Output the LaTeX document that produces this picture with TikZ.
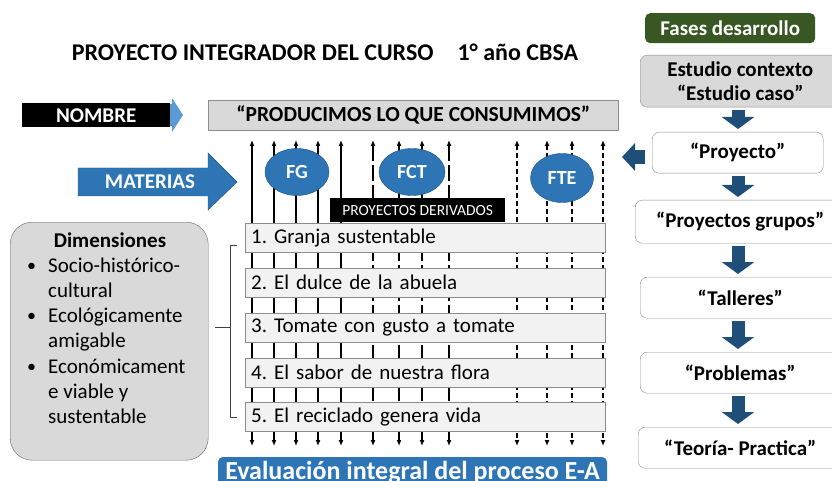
\documentclass[tikz,border=0pt]{standalone}
\usepackage{fontspec}
\setmainfont{Carlito}
\usepackage{tikz}
\usetikzlibrary{shapes.geometric,arrows.meta}
\frenchspacing

\definecolor{azul}{RGB}{46,117,182}
\definecolor{azulosc}{RGB}{31,78,121}
\definecolor{azulclaro}{RGB}{91,155,213}
\definecolor{verde}{RGB}{56,87,35}
\definecolor{gris}{RGB}{217,217,217}
\definecolor{grisclaro}{RGB}{242,242,242}
\definecolor{borde}{RGB}{140,140,140}

\tikzset{
  linea/.style={line width=1.4pt},
  punteada/.style={line width=1.4pt, dash pattern=on 5pt off 3pt},
  mixta/.style={line width=1.4pt, dash pattern=on 16pt off 4pt},
  proy/.style={draw=borde, fill=grisclaro, anchor=north west, minimum height=29pt,
    text width=348pt, inner xsep=6pt, align=left, font=\fontsize{21}{23}\selectfont},
  elip/.style={ellipse, draw=azulosc, fill=azul, text=white, inner sep=0pt,
    font=\bfseries\fontsize{20}{22}\selectfont},
  fase/.style={draw=borde, fill=white, rounded corners=7pt, anchor=north west,
    font=\bfseries\fontsize{21}{25}\selectfont, align=center},
  bloque/.style={line width=13pt, draw=azulosc, -{Triangle[width=32pt,length=12pt]},
    shorten <=3pt, shorten >=3pt}
}

\begin{document}
\begin{tikzpicture}[x=1pt, y=-1pt, >={Latex[length=6pt,width=5pt]}]
    \useasboundingbox (0,0) rectangle (832,481);
    \clip (0,0) rectangle (832,481);

    % Titulo
    \node[font=\bfseries\fontsize{24}{28}\selectfont] (titulo) at (325,52)
        {PROYECTO INTEGRADOR DEL CURSO\quad 1° año CBSA};

    % Nombre
    \fill[azulclaro] (160,104) -- (172,104) -- (172,98) -- (183,115) -- (172,132) -- (172,126) -- (160,126) -- cycle;
    \node[fill=black, text=white, anchor=north west, minimum width=148pt, minimum height=24pt, inner ysep=0pt,
        font=\bfseries\fontsize{21}{22}\selectfont] (nombre) at (22,103) {NOMBRE};
    \node[draw=borde, fill=gris, anchor=north west, minimum width=410pt, minimum height=30pt, inner ysep=0pt,
        font=\bfseries\fontsize{21.5}{22}\selectfont] (lema) at (208,100) {“PRODUCIMOS LO QUE CONSUMIMOS”};

    % Materias
    \filldraw[fill=azul, draw=azulosc] (78,168) -- (208,168) -- (208,153) -- (237,182) -- (208,210) -- (208,196) -- (78,196) -- cycle;
    \node[text=white, font=\bfseries\fontsize{21}{22}\selectfont] (materias) at (150,182) {MATERIAS};

    % Lineas verticales
    \foreach \x [count=\i] in {252,274,296,318,341} {
        \coordinate (a\i) at (\x,140);
        \coordinate (b\i) at (\x,446);
        \draw[<->, linea] (a\i) -- (b\i);
    }
    \foreach \x [count=\i] in {373,399,422,449} {
        \coordinate (c\i) at (\x,140);
        \coordinate (d\i) at (\x,446);
        \draw[<->, mixta] (c\i) -- (d\i);
    }
    \foreach \x [count=\i] in {517,547,572,603} {
        \coordinate (e\i) at (\x,140);
        \coordinate (f\i) at (\x,446);
        \draw[<->, punteada] (e\i) -- (f\i);
    }

    % Formaciones
    \node[elip, minimum width=64pt, minimum height=47pt] (fg) at (297,172) {FG};
    \node[elip, minimum width=66pt, minimum height=47pt] (fct) at (412,172) {FCT};
    \node[elip, minimum width=63pt, minimum height=49pt] (fte) at (562,178) {FTE};
    \node[fill=black, text=white, anchor=north west, minimum width=175pt, minimum height=24pt, inner ysep=0pt,
        font=\fontsize{15.5}{16}\selectfont] (derivados) at (330,198) {PROYECTOS DERIVADOS};

    % Proyectos
    \foreach \t/\y [count=\i] in {1. Granja sustentable/223, 2. El dulce de la abuela/268,
        3. Tomate con gusto a tomate/313, 4. El sabor de nuestra flora/358, 5. El reciclado genera vida/402}
        \node[proy] (p\i) at (245,\y) {\t};
    \draw[black!75, line width=0.8pt] (237,245) -- (230,245) -- (230,417) -- (237,417);
    \draw[black!75, line width=0.8pt] (230,327) -- (215,327);

    % Dimensiones
    \node[draw=black!60, fill=gris, rounded corners=22pt, anchor=north west,
        minimum width=198pt, minimum height=238pt] (dim) at (10,222) {};
    \node[font=\bfseries\fontsize{21}{22}\selectfont] (dimtit) at (110,240) {Dimensiones};
    \foreach \t [count=\i] in {Socio-histórico-, cultural, Ecológicamente, amigable,
        Económicament, e viable y, sustentable}
        \node[anchor=base west, inner sep=0pt, font=\fontsize{21}{22}\selectfont] (dl\i) at (48,{272+25.3*(\i-1)}) {\t};
    \foreach \i in {1,3,5}
        \node[anchor=base west, inner sep=0pt, font=\fontsize{18}{20}\selectfont] (bala\i) at (27,{271+25.3*(\i-1)}) {\textbullet};

    % Evaluacion
    \node[fill=azul, text=white, rounded corners=5pt, anchor=base, minimum width=389pt,
        text height=19pt, text depth=12pt, inner ysep=3pt,
        font=\bfseries\fontsize{26}{28}\selectfont] (eval) at (412.5,479) {Evaluación integral del proceso E-A};

    % Fases
    \node[fill=verde, text=white, rounded corners=5pt, anchor=north west, minimum width=170pt,
        minimum height=30pt, inner ysep=0pt, font=\bfseries\fontsize{21}{22}\selectfont] (fases) at (645,13) {Fases desarrollo};
    \node[fase, fill=gris, minimum width=200pt, minimum height=52pt, inner ysep=1pt] (est) at (640,55) {Estudio contexto\\[-1pt]“Estudio caso”};
    \node[fase, minimum width=171pt, minimum height=41pt] (pro) at (652,132) {“Proyecto”};
    \node[fase, minimum width=210pt, minimum height=43pt] (gru) at (635,200) {“Proyectos grupos”};
    \node[fase, minimum width=200pt, minimum height=41pt] (tal) at (640,277) {“Talleres”};
    \node[fase, minimum width=200pt, minimum height=41pt] (prob) at (640,352) {“Problemas”};
    \node[fase, minimum width=204pt, minimum height=41pt] (teo) at (638,427) {“Teoría- Practica”};

    \coordinate (eje) at (738,0);
    \foreach \a/\b in {est/pro, pro/gru, gru/tal, tal/prob, prob/teo}
        \draw[bloque] (\a.south -| eje) -- (\b.north -| eje);
    \coordinate (izq) at (622,157);
    \draw[line width=14pt, draw=azulosc, -{Triangle[width=27pt,length=13pt]}, shorten <=7pt] (izq -| pro.west) -- (izq);
\end{tikzpicture}
\end{document}
